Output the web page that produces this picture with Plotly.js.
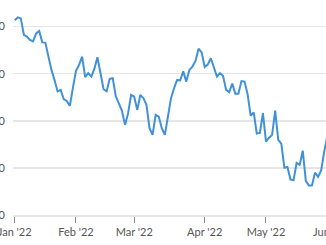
<!DOCTYPE html>
<html>
<head>
<meta charset="utf-8">
<script src="https://cdn.plot.ly/plotly-3.0.1.min.js"></script>
<style>
html,body{margin:0;padding:0;width:326px;height:245px;overflow:hidden;background:#fff;}
#chart{position:absolute;left:-47px;top:0;width:405px;height:245px;}
</style>
</head>
<body>
<div id="chart"></div>
<script>
// Trading days (2022) per month
const janDays = [3,4,5,6,7,10,11,12,13,14,18,19,20,21,24,25,26,27,28,31];
const febDays = [1,2,3,4,7,8,9,10,11,14,15,16,17,18,22,23,24,25,28];
const marDays = [1,2,3,4,7,8,9,10,11,14,15,16,17,18,21,22,23,24,25,28,29,30,31];
const aprDays = [1,4,5,6,7,8,11,12,13,14,18,19,20,21,22,25,26,27,28,29];
const mayDays = [2,3,4,5,6,9,10,11,12,13,16,17,18,19,20,23,24,25,26,27,31];

// Series values
const values = [
  81.32,81.95,81.74,78.24,77.88,77.18,76.86,78.56,79.09,76.65,
  76.60,73.35,70.81,68.68,66.24,66.56,64.59,64.23,63.16,66.99,
  70.59,71.87,73.63,69.26,70.11,69.38,71.02,73.50,70.11,66.71,
  66.24,68.90,69.04,65.18,63.69,62.10,59.13,61.61,65.50,65.14,
  62.31,65.50,64.80,63.38,58.43,57.01,61.25,60.89,58.43,57.01,
  60.89,64.80,66.92,68.68,68.58,70.49,68.32,70.81,71.51,72.72,
  75.31,74.52,71.44,71.93,73.29,71.17,69.38,70.11,69.53,66.56,
  66.09,67.90,65.77,65.77,68.43,68.32,65.67,61.08,61.78,57.28,
  57.43,61.61,55.58,56.41,57.01,62.17,55.94,55.16,50.04,50.21,
  47.52,47.39,51.06,50.64,53.67,47.24,46.28,46.28,49.00,48.09,
  49.47,53.46,56.65
];

const tickDates = ['2022-01-03','2022-02-01','2022-03-01','2022-04-01','2022-05-02','2022-06-01'];
const tickLabels = ["Jan '22","Feb '22","Mar '22","Apr '22","May '22","Jun '22"];
const yTicks = [40,50,60,70,80];
const extraCategories = ['2022-06-01'];

function pad(n){return (n<10?'0':'')+n;}
const dates = [];
[[1,janDays],[2,febDays],[3,marDays],[4,aprDays],[5,mayDays]].forEach(function(m){
  m[1].forEach(function(d){dates.push('2022-'+pad(m[0])+'-'+pad(d));});
});

const trace = {
  x: dates,
  y: values,
  type: 'scatter',
  mode: 'lines',
  line: {color: '#4191d8', width: 2},
  hoverinfo: 'skip'
};

const layout = {
  width: 405,
  height: 245,
  margin: {l: 60, r: 20, t: 8, b: 30},
  paper_bgcolor: '#fff',
  plot_bgcolor: '#fff',
  showlegend: false,
  font: {family: 'Lato, "Open Sans", sans-serif', size: 11, color: '#555'},
  xaxis: {
    type: 'category',
    categoryorder: 'array',
    categoryarray: dates.concat(extraCategories),
    range: [-0.55, 105.5],
    tickmode: 'array',
    tickvals: tickDates,
    ticktext: tickLabels,
    ticks: 'outside',
    ticklen: 6,
    tickwidth: 1,
    tickcolor: '#888',
    showgrid: false,
    showline: true,
    linecolor: '#e6e6e6',
    linewidth: 1.5,
    zeroline: false,
    tickfont: {size: 11, color: '#555'}
  },
  yaxis: {
    range: [40, 83.95],
    tickmode: 'array',
    tickvals: yTicks,
    ticktext: yTicks.map(String),
    showgrid: true,
    gridcolor: '#e6e6e6',
    gridwidth: 1.5,
    zeroline: false,
    showline: false,
    ticks: '',
    ticklabelstandoff: 7,
    tickfont: {size: 11, color: '#555'}
  }
};

Plotly.newPlot('chart', [trace], layout, {displayModeBar: false, staticPlot: true});
</script>
</body>
</html>
